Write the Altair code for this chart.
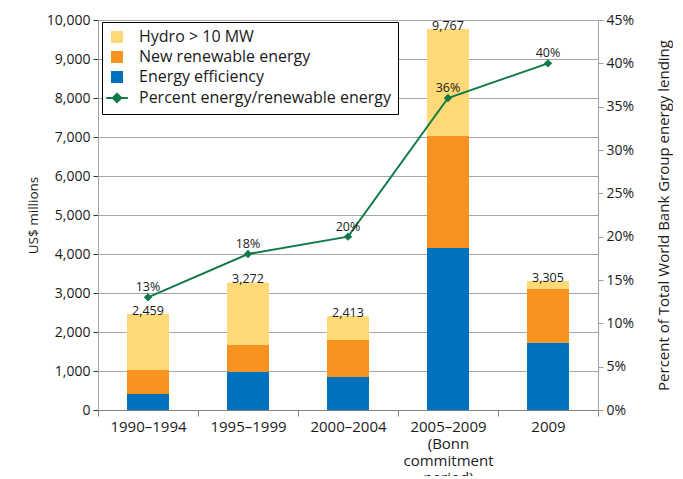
import altair as alt
import pandas as pd

periods = ["1990–1994", "1995–1999", "2000–2004", "2005–2009|(Bonn|commitment|period)", "2009"]
efficiency = [410, 982, 846, 4154, 1726]
new_renewable = [615, 685, 949, 2872, 1377]
hydro = [1434, 1605, 618, 2741, 202]
totals = [2459, 3272, 2413, 9767, 3305]
percent = [13, 18, 20, 36, 40]

series_names = ["Hydro > 10 MW", "New renewable energy", "Energy efficiency",
                "Percent energy/renewable energy"]
series_colors = ["#fdd978", "#f7931e", "#0071bc", "#117a48"]
y_ticks = [0, 1000, 2000, 3000, 4000, 5000, 6000, 7000, 8000, 9000, 10000]
pct_ticks = [0, 5, 10, 15, 20, 25, 30, 35, 40, 45]

FONT = "Open Sans"

rows = []
for i, p in enumerate(periods):
    rows.append({"period": p, "series": "Energy efficiency", "value": efficiency[i], "order": 0})
    rows.append({"period": p, "series": "New renewable energy", "value": new_renewable[i], "order": 1})
    rows.append({"period": p, "series": "Hydro > 10 MW", "value": hydro[i], "order": 2})
bars_df = pd.DataFrame(rows)

tot_df = pd.DataFrame({"period": periods, "total": totals,
                       "pct": percent,
                       "series": [series_names[3]] * len(periods)})

x_axis = alt.Axis(labelAngle=0, tickBand="extent", labelExpr="split(datum.label, '|')",
                  labelFontSize=15, labelColor="#1a1a1a", labelPadding=3,
                  labelLineHeight=17, tickColor="#808080", tickSize=6,
                  domainColor="#808080", labelFont=FONT)
x_enc = alt.X("period:N", sort=periods, title=None,
              scale=alt.Scale(paddingInner=0, paddingOuter=0), axis=x_axis)

color_scale = alt.Scale(domain=series_names, range=series_colors)

line_path = "M-1.8,0H1.8M0,-0.7L0.7,0L0,0.7L-0.7,0Z"
is_line = "datum.value == 'Percent energy/renewable energy'"
legend = alt.Legend(
    title=None, orient="none", legendX=4, legendY=2, padding=7,
    strokeColor="black", fillColor="white",
    labelFont=FONT, labelFontSize=16, labelColor="#1a1a1a",
    symbolSize=144, rowPadding=4, labelOffset=14, labelLimit=400,
    symbolType=alt.ExprRef(expr=f"{is_line} ? '{line_path}' : 'square'"),
    symbolStrokeWidth=alt.ExprRef(expr=f"{is_line} ? 2 : 0"),
    symbolOpacity=1,
)

left_axis = alt.Axis(values=y_ticks, format=",d", labelFont=FONT, labelFontSize=14,
                     labelColor="#1a1a1a", titleFont=FONT, titleFontSize=13.5,
                     titleFontWeight="normal", titleColor="#1a1a1a", titlePadding=6,
                     grid=True, gridColor="#a6a6a6", domainColor="#a0a0a0",
                     tickColor="#333333", tickSize=5, labelPadding=3)
left_scale = alt.Scale(domain=[0, 10000], nice=False)

bars = alt.Chart(bars_df).mark_bar(width=alt.RelativeBandSize(0.42)).encode(
    x=x_enc,
    y=alt.Y("value:Q", stack="zero", title="US$ millions", scale=left_scale, axis=left_axis),
    color=alt.Color("series:N", scale=color_scale, legend=legend),
    order=alt.Order("order:Q"),
)

tot_text = alt.Chart(tot_df).mark_text(font=FONT, fontSize=12.5, color="#1a1a1a",
                                       baseline="alphabetic", dy=1).encode(
    x=alt.X("period:N", sort=periods, title=None, axis=x_axis),
    y=alt.Y("total:Q", title="US$ millions", scale=left_scale, axis=left_axis),
    text=alt.Text("total:Q", format=","),
)

left = alt.layer(bars, tot_text)

right_axis = alt.Axis(orient="right", values=pct_ticks, labelExpr="datum.value + '%'",
                      labelFont=FONT, labelFontSize=14, labelColor="#1a1a1a",
                      titleFont=FONT, titleFontSize=15, titleFontWeight="normal",
                      titleColor="#1a1a1a", titlePadding=38, titleAngle=270, grid=False,
                      domainColor="#a0a0a0", tickColor="#a0a0a0", tickSize=5,
                      labelPadding=3)
right_scale = alt.Scale(domain=[0, 45], nice=False)
right_title = "Percent of Total World Bank Group energy lending"

line = alt.Chart(tot_df).mark_line(strokeWidth=2).encode(
    x=alt.X("period:N", sort=periods, title=None, axis=x_axis),
    y=alt.Y("pct:Q", title=right_title, scale=right_scale, axis=right_axis),
    color=alt.Color("series:N", scale=color_scale, legend=legend),
)
pts = alt.Chart(tot_df).mark_point(shape="diamond", filled=True, size=70, opacity=1).encode(
    x=alt.X("period:N", sort=periods, title=None, axis=x_axis),
    y=alt.Y("pct:Q", title=right_title, scale=right_scale, axis=right_axis),
    color=alt.Color("series:N", scale=color_scale, legend=legend),
)
pct_text = alt.Chart(tot_df).mark_text(font=FONT, fontSize=12.5, color="#1a1a1a",
                                       baseline="alphabetic", dy=-6).encode(
    x=alt.X("period:N", sort=periods, title=None, axis=x_axis),
    y=alt.Y("pct:Q", title=right_title, scale=right_scale, axis=right_axis),
    text=alt.Text("label:N"),
).transform_calculate(label="datum.pct + '%'")

right = alt.layer(line, pts, pct_text)

chart = alt.layer(left, right).resolve_scale(y="independent").properties(
    width=500, height=390,
    autosize=alt.AutoSizeParams(type="none"),
    padding={"left": 90, "top": 12, "right": 75, "bottom": 66},
).configure_view(stroke=None).configure(font=FONT)

chart.save("out.html", embed_options={"renderer": "svg", "actions": False})
